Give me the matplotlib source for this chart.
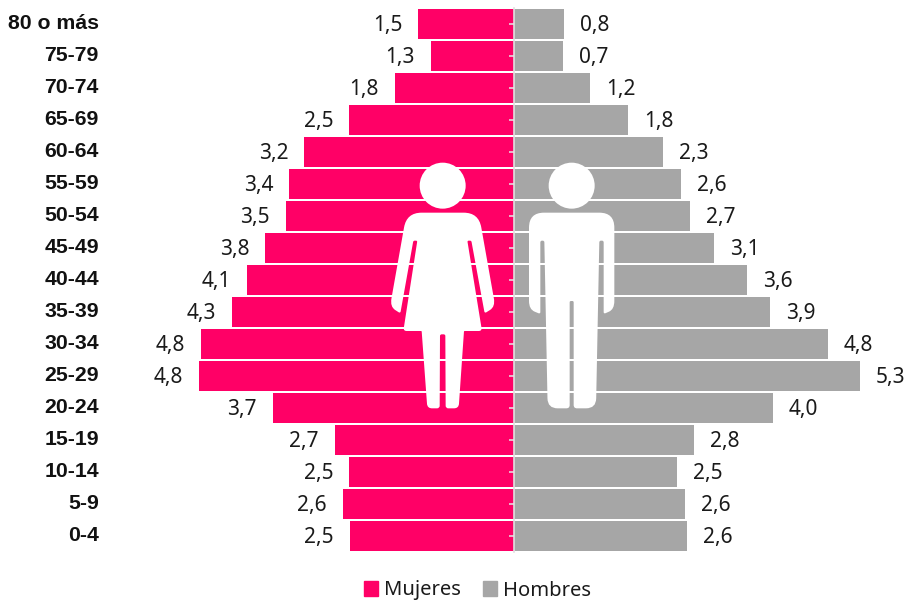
import matplotlib
matplotlib.use("Agg")
import matplotlib.pyplot as plt
from matplotlib.patches import PathPatch, Circle, Patch
from matplotlib.path import Path
from matplotlib.transforms import Affine2D, ScaledTranslation
import numpy as np

ages = ["80 o más", "75-79", "70-74", "65-69", "60-64", "55-59", "50-54", "45-49", "40-44",
        "35-39", "30-34", "25-29", "20-24", "15-19", "10-14", "5-9", "0-4"]
mujeres = [1.46, 1.27, 1.82, 2.52, 3.21, 3.44, 3.49, 3.81, 4.09, 4.32, 4.79, 4.82, 3.69, 2.74, 2.52, 2.62, 2.51]
hombres = [0.77, 0.76, 1.17, 1.76, 2.29, 2.57, 2.71, 3.08, 3.58, 3.93, 4.82, 5.31, 3.98, 2.77, 2.51, 2.63, 2.66]
mujeres_labels = ["1,5", "1,3", "1,8", "2,5", "3,2", "3,4", "3,5", "3,8", "4,1", "4,3", "4,8", "4,8", "3,7", "2,7", "2,5", "2,6", "2,5"]
hombres_labels = ["0,8", "0,7", "1,2", "1,8", "2,3", "2,6", "2,7", "3,1", "3,6", "3,9", "4,8", "5,3", "4,0", "2,8", "2,5", "2,6", "2,6"]

PINK = "#FF0066"
GRAY = "#A6A6A6"
W, H = 909, 601
FONT = "Noto Sans"

fig = plt.figure(figsize=(W / 100, H / 100), dpi=100)
L, R, T, B = 110, 905, 8, 552
ax = fig.add_axes([L / W, 1 - B / H, (R - L) / W, (B - T) / H])
scale = 65.2
cx = 513.5
ax.set_xlim((L - cx) / scale, (R - cx) / scale)
ax.set_ylim(len(ages) - 0.5, -0.5)
ax.patch.set_alpha(0)
ax.set_axisbelow(False)

ypos = list(range(len(ages)))
ax.barh(ypos, [-v for v in mujeres], height=0.92, color=PINK, linewidth=0)
ax.barh(ypos, hombres, height=0.92, color=GRAY, linewidth=0)

for y, v, lab in zip(ypos, mujeres, mujeres_labels):
    ax.annotate(lab, (-v, y), xytext=(-11.5, -1), textcoords="offset points", ha="right", va="center",
                fontsize=15, family=FONT, color="#1a1a1a")
for y, v, lab in zip(ypos, hombres, hombres_labels):
    ax.annotate(lab, (v, y), xytext=(11.5, -1), textcoords="offset points", ha="left", va="center",
                fontsize=15, family=FONT, color="#1a1a1a")

for s in ("top", "right", "bottom"):
    ax.spines[s].set_visible(False)
ax.spines["left"].set_position(("data", 0))
ax.spines["left"].set_color("#E0E0E0")
ax.spines["left"].set_linewidth(1.2)
ax.set_xticks([])
ax.set_yticks(ypos, ages)
ax.tick_params(axis="y", direction="out", length=3.6, width=1.1, color="#E6E6E6", pad=295)
lift = ScaledTranslation(0, 2 / 72, fig.dpi_scale_trans)
for t in ax.get_yticklabels():
    t.set_fontfamily("Liberation Sans")
    t.set_fontweight("bold")
    t.set_fontsize(15.3)
    t.set_color("#111111")
    t.set_transform(t.get_transform() + lift)


def rounded(pts):
    """Closed path through (x, y, radius) corners, each corner rounded."""
    n = len(pts)
    verts, codes = [], []
    for i, (x, y, r) in enumerate(pts):
        p = np.array([x, y], float)
        a = np.array(pts[i - 1][:2], float)
        b = np.array(pts[(i + 1) % n][:2], float)
        ra = min(r, np.linalg.norm(a - p) / 2)
        rb = min(r, np.linalg.norm(b - p) / 2)
        p1 = p + (a - p) / np.linalg.norm(a - p) * ra
        p2 = p + (b - p) / np.linalg.norm(b - p) * rb
        verts += [tuple(p1), tuple(p), tuple(p2)]
        codes += [Path.MOVETO if i == 0 else Path.LINETO, Path.CURVE3, Path.CURVE3]
    verts.append(verts[0])
    codes.append(Path.CLOSEPOLY)
    return Path(verts, codes)


# pictograms, outlined in the pixel frame of the reference crop (3x, origin 380,150)
icon = Affine2D().scale(1 / 3, -1 / 3).translate(380, H - 150)
woman = [(80, 188, 45), (296, 188, 45), (346, 470, 25), (314, 490, 6), (274, 272, 4), (262, 272, 4),
         (306, 543, 10), (252, 543, 2), (236, 775, 14), (197, 775, 8), (196, 553, 5), (180, 553, 5),
         (179, 775, 8), (142, 775, 14), (125, 543, 2), (70, 543, 10), (112, 272, 4), (100, 272, 4),
         (61, 490, 6), (30, 470, 25)]
man = [(447, 188, 45), (703, 188, 45), (703, 478, 25), (671, 492, 6), (671, 272, 5), (658, 272, 5),
       (648, 775, 30), (581, 775, 10), (581, 453, 4), (569, 453, 4), (569, 775, 10), (503, 775, 30),
       (493, 272, 5), (481, 272, 5), (481, 492, 6), (447, 478, 25)]
for pts in (woman, man):
    fig.add_artist(PathPatch(rounded(pts), facecolor="white", edgecolor="none", transform=icon, zorder=5))
for c in ((188, 107), (575, 107)):
    fig.add_artist(Circle(c, 69, facecolor="white", edgecolor="none", transform=icon, zorder=5))

handles = [Patch(color=PINK, label="Mujeres"), Patch(color=GRAY, label="Hombres")]
fig.legend(handles=handles, loc="center", bbox_to_anchor=(477.5 / W, 1 - 590.5 / H), ncol=2, frameon=False,
           handlelength=0.7, handleheight=0.7, handletextpad=0.3, columnspacing=1.05,
           prop={"family": FONT, "size": 14.5}, labelcolor="#1a1a1a")

fig.savefig("out.png", dpi=100)
